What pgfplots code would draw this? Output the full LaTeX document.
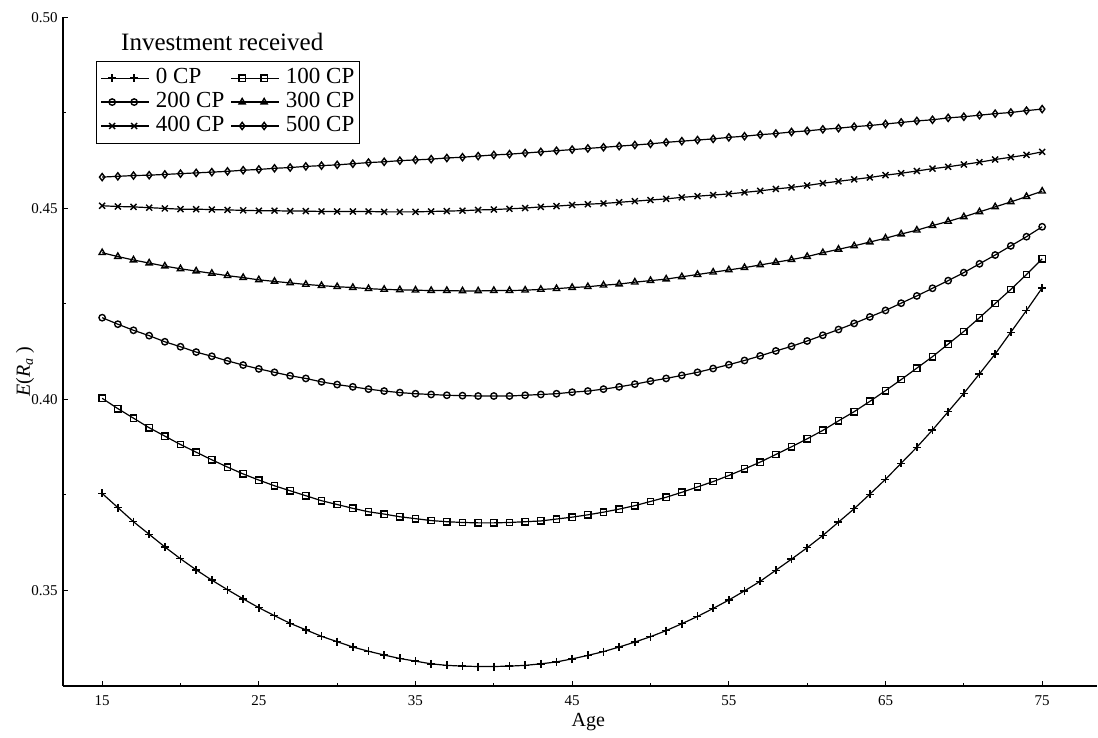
\documentclass[border=0pt]{standalone}
\usepackage{fontspec}
\setmainfont{Liberation Serif}
\usepackage{pgfplots}
\usepackage{pgfplotstable}
\pgfplotsset{compat=1.18}

% expected return by age, one column per investment level
\pgfplotstableread{
age  c0     c100   c200   c300   c400   c500
15   0.3754 0.4003 0.4214 0.4384 0.4507 0.4582
16   0.3717 0.3976 0.4197 0.4374 0.4505 0.4584
17   0.3680 0.3951 0.4181 0.4365 0.4504 0.4586
18   0.3647 0.3926 0.4167 0.4357 0.4502 0.4587
19   0.3614 0.3904 0.4151 0.4349 0.4500 0.4589
20   0.3583 0.3882 0.4138 0.4342 0.4498 0.4591
21   0.3554 0.3862 0.4124 0.4336 0.4498 0.4593
22   0.3527 0.3842 0.4113 0.4330 0.4497 0.4595
23   0.3502 0.3823 0.4101 0.4324 0.4496 0.4597
24   0.3478 0.3805 0.4090 0.4319 0.4495 0.4600
25   0.3455 0.3789 0.4080 0.4313 0.4494 0.4602
26   0.3434 0.3774 0.4071 0.4309 0.4494 0.4605
27   0.3414 0.3761 0.4062 0.4305 0.4493 0.4607
28   0.3397 0.3748 0.4055 0.4301 0.4493 0.4610
29   0.3380 0.3735 0.4046 0.4298 0.4492 0.4612
30   0.3366 0.3725 0.4039 0.4295 0.4492 0.4614
31   0.3352 0.3715 0.4033 0.4293 0.4492 0.4617
32   0.3341 0.3706 0.4027 0.4290 0.4492 0.4620
33   0.3331 0.3700 0.4022 0.4288 0.4491 0.4622
34   0.3322 0.3693 0.4018 0.4287 0.4491 0.4625
35   0.3315 0.3688 0.4015 0.4286 0.4491 0.4627
36   0.3308 0.3683 0.4013 0.4285 0.4492 0.4629
37   0.3304 0.3680 0.4011 0.4285 0.4493 0.4632
38   0.3302 0.3678 0.4010 0.4284 0.4494 0.4634
39   0.3301 0.3677 0.4009 0.4284 0.4496 0.4637
40   0.3301 0.3677 0.4009 0.4285 0.4497 0.4640
41   0.3302 0.3678 0.4009 0.4285 0.4499 0.4642
42   0.3304 0.3680 0.4011 0.4286 0.4501 0.4645
43   0.3308 0.3682 0.4013 0.4288 0.4504 0.4648
44   0.3313 0.3687 0.4015 0.4290 0.4506 0.4651
45   0.3321 0.3692 0.4019 0.4293 0.4509 0.4654
46   0.3330 0.3698 0.4022 0.4295 0.4511 0.4657
47   0.3340 0.3705 0.4027 0.4299 0.4513 0.4660
48   0.3352 0.3713 0.4033 0.4302 0.4516 0.4663
49   0.3365 0.3722 0.4040 0.4307 0.4519 0.4666
50   0.3379 0.3733 0.4048 0.4311 0.4522 0.4669
51   0.3395 0.3744 0.4055 0.4315 0.4525 0.4673
52   0.3413 0.3757 0.4063 0.4321 0.4529 0.4676
53   0.3432 0.3771 0.4071 0.4327 0.4532 0.4679
54   0.3453 0.3785 0.4081 0.4333 0.4535 0.4682
55   0.3475 0.3801 0.4091 0.4339 0.4538 0.4686
56   0.3499 0.3818 0.4102 0.4345 0.4542 0.4689
57   0.3524 0.3836 0.4114 0.4352 0.4546 0.4693
58   0.3553 0.3856 0.4127 0.4359 0.4551 0.4696
59   0.3582 0.3876 0.4139 0.4366 0.4555 0.4700
60   0.3612 0.3897 0.4153 0.4374 0.4560 0.4703
61   0.3644 0.3919 0.4168 0.4384 0.4566 0.4707
62   0.3679 0.3944 0.4183 0.4393 0.4571 0.4710
63   0.3714 0.3968 0.4199 0.4402 0.4576 0.4714
64   0.3752 0.3995 0.4216 0.4412 0.4581 0.4717
65   0.3791 0.4023 0.4233 0.4422 0.4587 0.4721
66   0.3833 0.4052 0.4252 0.4433 0.4592 0.4725
67   0.3875 0.4082 0.4271 0.4443 0.4598 0.4729
68   0.3920 0.4112 0.4291 0.4455 0.4604 0.4732
69   0.3968 0.4145 0.4311 0.4466 0.4609 0.4737
70   0.4016 0.4178 0.4332 0.4478 0.4615 0.4740
71   0.4067 0.4214 0.4355 0.4491 0.4621 0.4744
72   0.4119 0.4251 0.4378 0.4504 0.4628 0.4748
73   0.4176 0.4288 0.4402 0.4517 0.4634 0.4751
74   0.4233 0.4327 0.4426 0.4531 0.4640 0.4756
75   0.4292 0.4368 0.4452 0.4545 0.4648 0.4760
}\returns

\pgfplotsset{cpline/.style={black, solid, line width=0.6pt, mark size=1.6pt,
    mark options={solid, black, line width=0.7pt, fill=none}}}

\begin{document}
\begin{tikzpicture}
\begin{axis}[
  name=ax,
  scale only axis,
  width=517pt, height=334.3pt,
  xmin=12.5, xmax=78.5,
  ymin=0.325, ymax=0.50,
  axis x line=bottom, axis y line=left,
  axis line style={-, line width=0.6pt},
  xtick={15,25,...,75},
  ytick={0.35,0.40,0.45,0.50},
  minor x tick num=1, minor y tick num=1,
  tick align=inside,
  major tick length=2.5pt, minor tick length=1.5pt,
  tick style={black, line width=0.5pt},
  ticklabel style={font=\fontsize{7.5}{8.5}\selectfont},
  xticklabel style={inner sep=0pt, yshift=-4.5pt},
  yticklabel style={inner sep=0pt, xshift=-2.5pt},
  /pgf/number format/assume math mode=true,
  yticklabel style={/pgf/number format/fixed, /pgf/number format/zerofill, /pgf/number format/precision=2},
  scaled y ticks=false,
  xlabel={Age},
  ylabel={\textit{E}(\textit{R}\textsubscript{\textit{a}}\,)},
  xlabel style={font=\fontsize{12}{14}\selectfont},
  ylabel style={font=\fontsize{13}{15}\selectfont},
  every axis x label/.style={at={(axis description cs:0.508,-0.054)}, anchor=center},
  every axis y label/.style={at={(axis description cs:-0.0368,0.47)}, anchor=center, rotate=90},
  legend columns=2,
  legend cell align=left,
  legend style={at={(0.032,0.9355)}, anchor=north west, draw=black, line width=0.5pt,
    font=\fontsize{11.5}{12}\selectfont, row sep=0pt, column sep=2.5pt,
    inner xsep=2pt, inner ysep=2.6pt,
    nodes={inner sep=0.6pt, text height=7.9pt, text depth=2.85pt}},
  legend image code/.code={
    \draw[#1, mark=none, line width=0.5pt] (0pt,0pt) -- (22pt,0pt);
    \draw[#1, only marks] plot coordinates {(5.5pt,0pt) (16.5pt,0pt)};
    \path (0pt,0pt) -- (24pt,0pt);
  },
]
\addplot[cpline, mark=+, mark size=2pt] table[x=age, y=c0] {\returns};
\addlegendentry{0 CP}
\addplot[cpline, mark=square] table[x=age, y=c100] {\returns};
\addlegendentry{100 CP}
\addplot[cpline, mark=o] table[x=age, y=c200] {\returns};
\addlegendentry{200 CP}
\addplot[cpline, mark=triangle, mark size=1.8pt] table[x=age, y=c300] {\returns};
\addlegendentry{300 CP}
\addplot[cpline, mark=x, mark size=2.1pt] table[x=age, y=c400] {\returns};
\addlegendentry{400 CP}
\addplot[cpline, mark=diamond, mark size=1.8pt] table[x=age, y=c500] {\returns};
\addlegendentry{500 CP}
\node[anchor=base, font=\fontsize{12.5}{14}\selectfont] at (rel axis cs:0.154,0.951) {Investment received};
\end{axis}
\pgfresetboundingbox
\path (ax.south west) ++(-31.5pt,-26pt) rectangle ++(549pt,369pt);
\end{tikzpicture}
\end{document}
